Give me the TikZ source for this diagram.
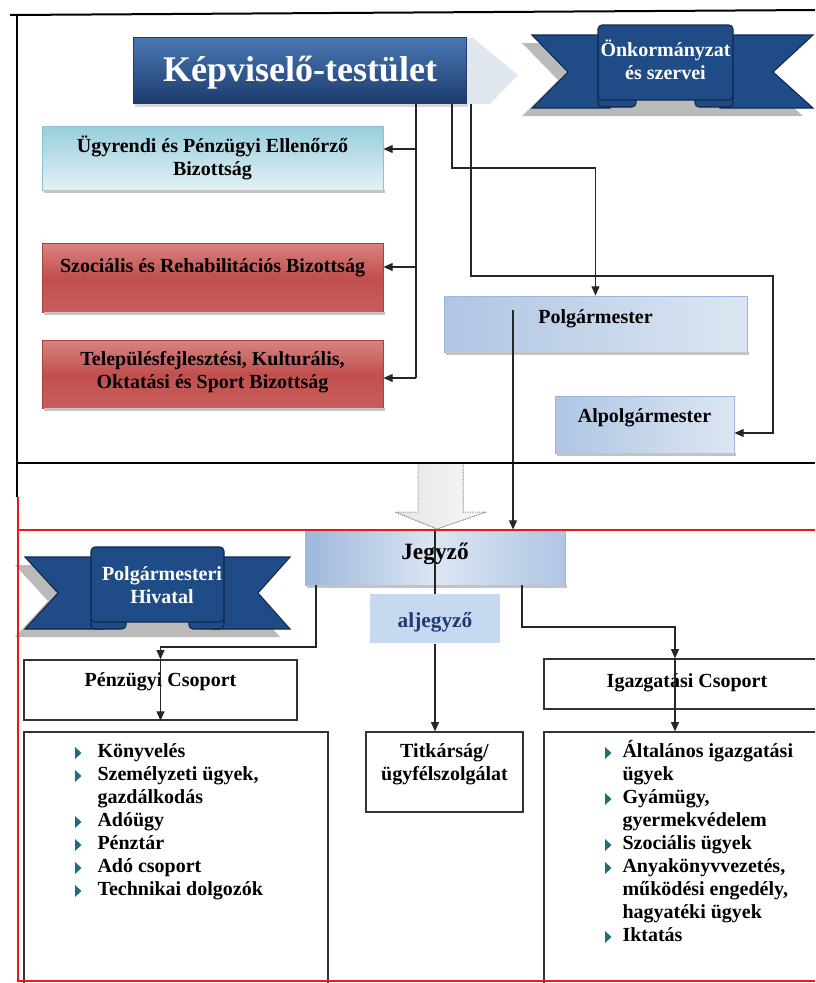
\documentclass[tikz,border=0pt]{standalone}
\usepackage{fontspec}
\setmainfont{Liberation Serif}
\usepackage{graphicx}
\usetikzlibrary{arrows.meta,fit,calc}

\definecolor{kepvtop}{HTML}{4A78B4}
\definecolor{kepvbot}{HTML}{1D3C6E}
\definecolor{kepvarny}{HTML}{E1E7EF}
\definecolor{szalag}{HTML}{1F4B87}
\definecolor{szalagvonal}{HTML}{0F284B}
\definecolor{ciantop}{HTML}{97CEDC}
\definecolor{cianbot}{HTML}{E3F1F6}
\definecolor{cianvonal}{HTML}{8CC3D3}
\definecolor{vorostop}{HTML}{D98482}
\definecolor{voros}{HTML}{C0504D}
\definecolor{vorosbot}{HTML}{C85E5B}
\definecolor{vorosvonal}{HTML}{A8423F}
\definecolor{kekbal}{HTML}{AFC5E3}
\definecolor{kekjobb}{HTML}{DCE6F2}
\definecolor{kekmely}{HTML}{9DB7DB}
\definecolor{kekvonal}{HTML}{9BB7DB}
\definecolor{aljkek}{HTML}{C6D9F0}
\definecolor{aljszoveg}{HTML}{1F3A73}
\definecolor{keret}{HTML}{E31B1B}
\definecolor{pont}{HTML}{206C7C}
\definecolor{arnyek}{HTML}{A9A9A9}

\newcommand{\sorok}[1]{\begin{tabular}[t]{@{}c@{}}#1\end{tabular}}
\newcommand{\listak}[1]{\begin{tabular}[t]{@{}l@{}}#1\end{tabular}}

\tikzset{every picture/.style={line width=0.75pt}}

\begin{document}
\begin{tikzpicture}[x=0.75pt,y=0.75pt,yscale=-1,
	txt/.style={anchor=base, inner sep=0pt, font=\bfseries\fontsize{15}{17.25}\selectfont},
	szalagst/.style={fill=szalag, draw=szalagvonal, line width=0.8pt},
	piros/.style={inner sep=0pt, top color=vorostop, bottom color=vorosbot, middle color=voros, draw=vorosvonal, line width=0.6pt},
	kekdoboz/.style={inner sep=0pt, left color=kekbal, right color=kekjobb, draw=kekvonal, line width=0.6pt},
	csop/.style={inner sep=0pt, draw=black!80, line width=0.9pt},
	conn/.style={draw=black!85, line width=0.9pt},
	arr/.style={conn, -{Triangle[length=7pt,width=6pt]}}]
	\useasboundingbox (0,0) rectangle (815,983);
	\clip (0,0) rectangle (815,983);

	% Kepviselo-testulet
	\fill[kepvarny] (466,38) -- (473,38) -- (518,75) -- (490,104) -- (466,104) -- cycle;
	\fill[arnyek!45] (135,103) rectangle (468,107);
	\node[fit={(133,37) (466,103)}, inner sep=0pt, top color=kepvtop, bottom color=kepvbot, draw=kepvbot] (kepv) {};
	\node[anchor=base, inner sep=0pt, text=white, font=\bfseries\fontsize{27}{30}\selectfont] (kepvtext) at (300,81) {Képviselő-testület};

	% Onkormanyzat szalag
	\fill[arnyek!80] (522,43) -- (803,43) -- (763,80) -- (803,116) -- (522,116) -- (558,80) -- cycle;
	\draw[szalagst] (532,35) -- (610,35) -- (610,108) -- (532,108) -- (568,72) -- cycle;
	\draw[szalagst] (720,35) -- (813,35) -- (773,72) -- (813,108) -- (720,108) -- cycle;
	\draw[szalagst, rounded corners=3pt] (598,93) rectangle (636,107);
	\draw[szalagst, rounded corners=3pt] (695,93) rectangle (733,107);
	\draw[szalagst, rounded corners=3pt] (598,25) rectangle (733,100);
	\node[txt, text=white] (onktext) at (665.5,56) {\sorok{Önkormányzat\\és szervei}};

	% Bizottsagok
	\node[fit={(42,126) (383,190)}, inner sep=0pt, top color=ciantop, bottom color=cianbot, draw=cianvonal, line width=0.6pt] (ugyr) {};
	\node[txt] (ugyrtext) at (212.5,152) {\sorok{Ügyrendi és Pénzügyi Ellenőrző\\Bizottság}};
	\node[fit={(42,243) (383,312)}, piros] (szoc) {};
	\node[txt] (szoctext) at (212.5,272) {Szociális és Rehabilitációs Bizottság};
	\node[fit={(42,340) (383,408)}, piros] (telep) {};
	\node[txt] (teleptext) at (212.5,365) {\sorok{Településfejlesztési, Kulturális,\\Oktatási és Sport Bizottság}};

	% Polgarmester, Alpolgarmester
	\node[fit={(444,296) (747,352)}, kekdoboz] (polg) {};
	\node[txt] (polgtext) at (595.5,323) {Polgármester};
	\node[fit={(555,396) (734,453)}, kekdoboz] (alpolg) {};
	\node[txt] (alpolgtext) at (644.5,422) {Alpolgármester};

	% nagy nyil
	\fill[left color=black!10, right color=black!3] (418,463) -- (418,512) -- (395,512) -- (437,529) -- (486,512) -- (463,512) -- (463,463) -- cycle;
	\draw[black!45, densely dotted] (418,463) -- (418,512) -- (395,512) -- (437,529) -- (486,512) -- (463,512) -- (463,463);

	% Polgarmesteri Hivatal szalag
	\fill[arnyek!80] (15,565) -- (280,565) -- (248,601) -- (280,637) -- (15,637) -- (48,601) -- cycle;
	\draw[szalagst] (25,557) -- (103,557) -- (103,629) -- (25,629) -- (58,593) -- cycle;
	\draw[szalagst] (212,557) -- (290,557) -- (258,593) -- (290,629) -- (212,629) -- cycle;
	\draw[szalagst, rounded corners=3pt] (91,615) rectangle (126,629);
	\draw[szalagst, rounded corners=3pt] (189,615) rectangle (224,629);
	\draw[szalagst, rounded corners=3pt] (91,547) rectangle (224,622);
	\node[txt, text=white] (hivtext) at (162,580) {\sorok{Polgármesteri\\Hivatal}};

	% Jegyzo, aljegyzo
	\node[fit={(305,530) (565,585)}, inner sep=0pt, left color=kekmely, right color=kekbal, middle color=kekjobb, draw=kekvonal, line width=0.6pt] (jegyzo) {};
	\node[txt, font=\bfseries\fontsize{17.5}{20}\selectfont] (jegyzotext) at (435,559) {Jegyző};
	\node[fit={(370,594) (500,643)}, inner sep=0pt, fill=aljkek] (aljegy) {};
	\node[txt, text=aljszoveg, font=\bfseries\fontsize{16}{18}\selectfont] (aljtext) at (435,627) {aljegyző};

	\foreach \n in {ugyr,szoc,telep,polg,alpolg,jegyzo}
		\fill[arnyek!70] ($(\n.south west)+(2,0)$) rectangle ($(\n.south east)+(2,3)$);

	% Csoportok
	\node[fit={(24,660) (297,720)}, csop] (penz) {};
	\node[txt] (penztext) at (160.5,686) {Pénzügyi Csoport};
	\node[fit={(544,659) (830,709)}, csop] (igaz) {};
	\node[txt] (igaztext) at (687,687) {Igazgatási Csoport};

	\node[fit={(24,732) (328,1000)}, csop] (penzlist) {};
	\node[fit={(366,732) (523,812)}, csop] (titk) {};
	\node[fit={(544,732) (830,1000)}, csop] (igazlist) {};

	\node[txt, anchor=base west] (penzitems) at (97,757.5) {\listak{Könyvelés\\Személyzeti ügyek,\\gazdálkodás\\Adóügy\\Pénztár\\Adó csoport\\Technikai dolgozók}};
	\node[txt] (titktext) at (444.5,757.5) {\sorok{Titkárság/\\ügyfélszolgálat}};
	\node[txt, anchor=base west] (igazitems) at (622,757.5) {\listak{Általános igazgatási\\ügyek\\Gyámügy,\\gyermekvédelem\\Szociális ügyek\\Anyakönyvvezetés,\\működési engedély,\\hagyatéki ügyek\\Iktatás}};

	\foreach \y in {757.5,780.5,826.5,849.5,872.5,895.5}
		\fill[pont] (75,\y-10.5) -- (81.5,\y-4.5) -- (75,\y+1.5) -- cycle;
	\foreach \y in {757.5,803.5,849.5,872.5,941.5}
		\fill[pont] (605,\y-10.5) -- (611.5,\y-4.5) -- (605,\y+1.5) -- cycle;

	% Connection
	\coordinate (spa) at (416,149);
	\coordinate (spb) at (416,267);
	\coordinate (spc) at (416,378);
	\draw[conn] (kepv.south -| spa) -- (spc);
	\draw[arr] (spa) -- (spa -| ugyr.east);
	\draw[arr] (spb) -- (spb -| szoc.east);
	\draw[arr] (spc) -- (spc -| telep.east);
	% Connection
	\coordinate (pa) at (452,168);
	\draw[arr] (kepv.south -| pa) -- (pa) -| (polg.north);
	% Connection
	\coordinate (pb) at (471,276);
	\coordinate (pc) at (773,433);
	\draw[arr] (kepv.south -| pb) -- (pb) -- (pb -| pc) -- (pc) -- (pc -| alpolg.east);
	% Connection
	\coordinate (pd) at (513,310);
	\draw[arr] (pd) -- (pd |- jegyzo.north);
	% Connection
	\draw[conn] (jegyzo.north) -- (aljegy.north);
	\draw[arr] (aljegy.south) -- (aljegy.south |- titk.north);
	% Connection
	\coordinate (ja) at (316,647);
	\draw[arr] (jegyzo.south -| ja) -- (ja) -| (penz.north);
	\draw[arr] (penz.north) -- (penz.south);
	% Connection
	\coordinate (jb) at (522,627);
	\coordinate (jc) at (675,627);
	\draw[arr] (jegyzo.south -| jb) -- (jb) -- (jc) -- (jc |- igaz.north);
	\draw[arr] (jc |- igaz.north) -- (jc |- igazlist.north);

	% keret
	\draw[line width=1.5pt] (10,15) -- (815,10);
	\draw[line width=1.5pt] (17,14) -- (17,497);
	\draw[line width=1.5pt] (17,463) -- (815,463);
	\draw[keret, line width=1.5pt] (18,497) -- (18,981) -- (815,981);
	\draw[keret, line width=1.5pt] (18,530) -- (815,530);
\end{tikzpicture}
\end{document}
